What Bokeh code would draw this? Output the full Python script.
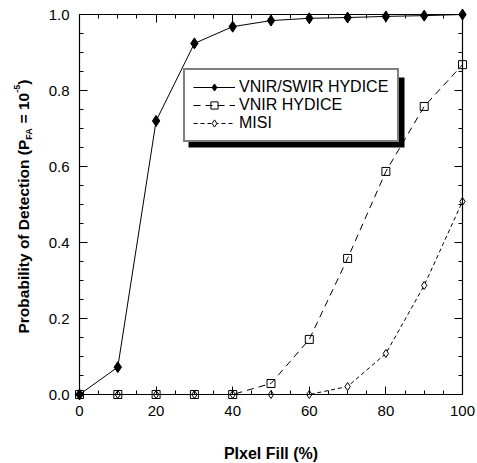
import math
from bokeh.plotting import figure
from bokeh.models import (LinearAxis, Range1d, Legend, LegendItem, Label,
                          BoxAnnotation, SingleIntervalTicker, NumeralTickFormatter,
                          CustomJSTickFormatter)
from bokeh.embed import file_html
from bokeh.resources import INLINE

# ---- data ----
pixel_fill = [0, 10, 20, 30, 40, 50, 60, 70, 80, 90, 100]
vnir_swir_hydice = [0.0, 0.072, 0.72, 0.924, 0.968, 0.984, 0.990, 0.992, 0.995, 0.997, 1.0]
vnir_hydice = [0.0, 0.0, 0.0, 0.0, 0.0, 0.029, 0.145, 0.358, 0.587, 0.758, 0.868]
misi = [0.0, 0.0, 0.0, 0.0, 0.0, 0.0, 0.0, 0.021, 0.108, 0.287, 0.508]
series_names = ["VNIR/SWIR HYDICE", "VNIR HYDICE", "MISI"]
x_label = "PIxel Fill (%)"
x_min, x_max = 0, 100
y_min, y_max = 0.0, 1.0

FONT = "Liberation Sans"

# ---- layout: the frame covers the whole canvas, axes are pinned inside ----
W_PX, H_PX = 477, 463
LEFT, RIGHT, TOP, BOTTOM = 79, 462, 14, 394          # plot box in pixels
TXT_FIX = 5                                          # label baseline correction
sx = (RIGHT - LEFT) / (x_max - x_min)
sy = (BOTTOM - TOP) / (y_max - y_min)
xr = Range1d(x_min - LEFT / sx, x_max + (W_PX - RIGHT) / sx)
yr = Range1d(y_min - (H_PX - BOTTOM) / sy, y_max + TOP / sy)

p = figure(width=W_PX, height=H_PX, output_backend="svg", toolbar_location=None,
           x_range=xr, y_range=yr,
           min_border_left=0, min_border_right=0, min_border_top=0,
           min_border_bottom=0)
p.xgrid.visible = False
p.ygrid.visible = False
p.outline_line_color = None
p.background_fill_color = "white"
p.border_fill_color = "white"


def style_axis(ax, ticker, show_labels, loc, bounds):
    ax.ticker = ticker
    ax.fixed_location = loc
    ax.bounds = bounds
    ax.axis_line_color = "black"
    ax.axis_line_width = 1.2
    ax.major_tick_in = 8
    ax.major_tick_out = 0
    ax.minor_tick_in = 4
    ax.minor_tick_out = 0
    ax.major_tick_line_color = "black"
    ax.minor_tick_line_color = "black"
    ax.major_label_text_font = FONT
    ax.major_label_text_color = "black"
    ax.major_label_text_font_size = "15px"
    if not show_labels:
        ax.formatter = CustomJSTickFormatter(code="return ''")
        ax.major_label_standoff = 0


xt = lambda: SingleIntervalTicker(interval=20, num_minor_ticks=4)
yt = lambda: SingleIntervalTicker(interval=0.2, num_minor_ticks=4)

style_axis(p.xaxis[0], xt(), True, y_min, (x_min, x_max))
style_axis(p.yaxis[0], yt(), True, x_min, (y_min, y_max))
p.xaxis[0].major_label_standoff = 11
p.yaxis[0].major_label_standoff = 10
p.xaxis[0].formatter = NumeralTickFormatter(format="0")
p.yaxis[0].formatter = NumeralTickFormatter(format="0.0")

top_ax = LinearAxis()
style_axis(top_ax, xt(), False, y_max, (x_min, x_max))
p.add_layout(top_ax, "above")
right_ax = LinearAxis()
style_axis(right_ax, yt(), False, x_max, (y_min, y_max))
p.add_layout(right_ax, "right")

# ---- series ----
r1 = p.line(pixel_fill, vnir_swir_hydice, line_color="black", line_width=1)
r2 = p.line(pixel_fill, vnir_hydice, line_color="black", line_width=1, line_dash="7 5")
r3 = p.line(pixel_fill, misi, line_color="black", line_width=1, line_dash="4 3")
m3 = p.scatter(pixel_fill, misi, marker="diamond", size=8,
               fill_color="white", line_color="black", line_width=1)
m2 = p.scatter(pixel_fill, vnir_hydice, marker="square", size=8,
               fill_color=None, line_color="black", line_width=1)
m1 = p.scatter(pixel_fill, vnir_swir_hydice, marker="diamond", size=11,
               fill_color="black", line_color="black", line_width=1)

# ---- legend with shadow ----
pad, gw, gh, stand, lw = 8, 42, 18, 4, 150
leg_x, leg_y = 183, H_PX - 142
leg_w = pad * 2 + gw + stand + lw + 5
leg_h = pad * 2 + gh * 3
shadow = BoxAnnotation(left=leg_x + 5, right=leg_x + leg_w + 4,
                       bottom=leg_y - 5, top=leg_y + leg_h - 5,
                       left_units="screen", right_units="screen",
                       bottom_units="screen", top_units="screen",
                       fill_color="black", fill_alpha=1, line_color=None)
p.add_layout(shadow)

legend = Legend(items=[LegendItem(label=series_names[0], renderers=[r1, m1]),
                       LegendItem(label=series_names[1], renderers=[r2, m2]),
                       LegendItem(label=series_names[2], renderers=[r3, m3])],
                location=(leg_x, leg_y), orientation="vertical",
                border_line_color="black", border_line_width=2,
                background_fill_color="white", background_fill_alpha=1,
                padding=pad, spacing=0, margin=0,
                glyph_width=gw, glyph_height=gh, label_height=gh, label_width=lw,
                label_standoff=stand,
                label_text_font=FONT, label_text_font_size="16px",
                label_text_color="black")
p.add_layout(legend, "center")

# ---- x-axis title ----
p.add_layout(Label(x=(x_min + x_max) / 2, y=y_min,
                   y_offset=-(458 - BOTTOM) + TXT_FIX,
                   text=x_label, text_align="center", text_baseline="alphabetic",
                   text_font=FONT, text_font_style="bold", text_font_size="16px",
                   text_color="black"))

# ---- y-axis title with subscript / superscript ----
W = {'P': 667, 'r': 389, 'o': 611, 'b': 611, 'a': 556, 'i': 278, 'l': 278, 't': 333,
     'y': 556, ' ': 278, 'f': 333, 'D': 722, 'e': 556, 'c': 556, 'n': 611, '(': 333,
     'F': 611, 'A': 722, '=': 584, '1': 556, '0': 556, '-': 333, '5': 556, ')': 333}
# (text, font px, baseline shift, leading gap in em)
pieces = [("Probability of Detection (P", 15.5, 0, 0.0),
          ("FA", 9, 5, 0.0),
          ("= 10", 15.5, 0, 0.278),
          ("-5", 9, -7, 0.0),
          (")", 15.5, 0, 0.0)]
pos = BOTTOM - 333.0
base_x = 28 - LEFT - TXT_FIX
for txt, size, shift, gap in pieces:
    pos += gap * size
    p.add_layout(Label(x=x_min, y=y_min, x_offset=base_x + shift, y_offset=pos,
                       text=txt, angle=90, angle_units="deg", text_align="left",
                       text_baseline="alphabetic",
                       text_font=FONT, text_font_style="bold",
                       text_font_size=f"{size}px", text_color="black"))
    pos += sum(W[c] for c in txt) * size / 1000.0

open("out.html", "w").write(file_html(p, INLINE))
